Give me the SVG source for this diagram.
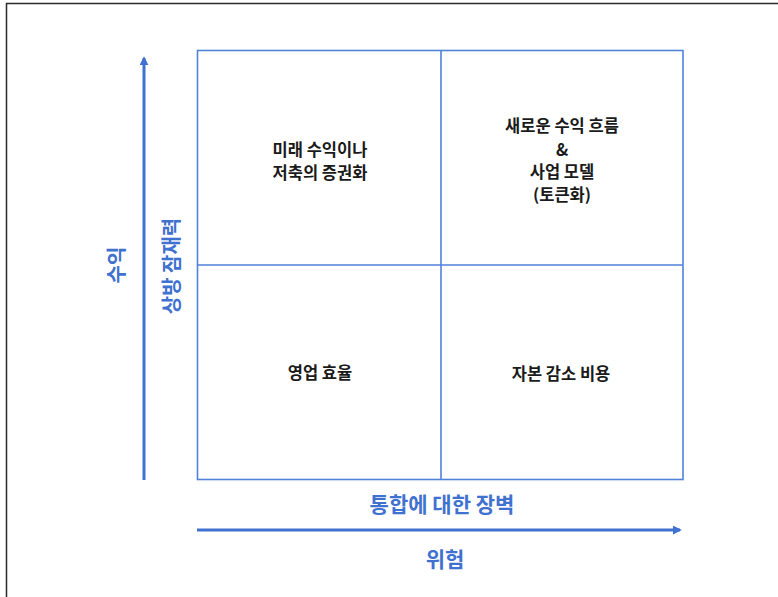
<svg xmlns="http://www.w3.org/2000/svg" width="778" height="597" viewBox="0 0 778 597">
<style>
.grid{fill:none;stroke:#4f82db;stroke-width:1.6}
.axis{stroke:#3f71d0;stroke-width:3;fill:none}
.q{font-family:"Noto Sans CJK KR","Noto Sans",sans-serif;font-weight:bold;font-size:16.5px;fill:#1a1a1a;text-anchor:middle;dominant-baseline:central}
.lbl{font-family:"Noto Sans CJK KR","Noto Sans",sans-serif;font-weight:bold;font-size:21px;fill:#3f71d0;text-anchor:middle;dominant-baseline:central}
.v{font-size:20px}
</style>
<defs>
<marker id="ah" viewBox="0 0 10 10" refX="8" refY="5" markerWidth="3" markerHeight="3" orient="auto" markerUnits="strokeWidth">
<path d="M0,0 L10,5 L0,10 z" fill="#3f71d0"/>
</marker>
</defs>
<rect width="778" height="597" fill="#ffffff"/>
<path d="M6.5,597 V3.5 H778" fill="none" stroke="#2b2b2b" stroke-width="1.5"/>
<g id="grid">
<rect class="grid" x="197.5" y="50.5" width="485.5" height="429"/>
<line class="grid" x1="441" y1="50.5" x2="441" y2="479.5"/>
<line class="grid" x1="197.5" y1="265" x2="683" y2="265"/>
</g>
<g id="connectors">
<line class="axis" x1="144" y1="480" x2="144" y2="58" marker-end="url(#ah)"/>
<line class="axis" x1="197" y1="530" x2="680" y2="530" marker-end="url(#ah)"/>
</g>
<g id="q-top-left">
<text class="q" x="320" y="149"><tspan x="320" y="149">미래 수익이나</tspan><tspan x="320" y="172">저축의 증권화</tspan></text>
</g>
<g id="q-top-right">
<text class="q" x="562" y="125"><tspan x="562" y="125">새로운 수익 흐름</tspan><tspan x="562" y="149">&amp;</tspan><tspan x="562" y="171">사업 모델</tspan><tspan x="562" y="194">(토큰화)</tspan></text>
</g>
<g id="q-bottom-left">
<text class="q" x="320" y="372">영업 효율</text>
</g>
<g id="q-bottom-right">
<text class="q" x="561" y="373">자본 감소 비용</text>
</g>
<g id="axis-labels">
<text class="lbl v" transform="translate(115,265) rotate(-90)">수익</text>
<text class="lbl v" transform="translate(170,266) rotate(-90)">상방 잠재력</text>
<text class="lbl" x="442" y="503">통합에 대한 장벽</text>
<text class="lbl" x="445" y="558">위험</text>
</g>
</svg>
